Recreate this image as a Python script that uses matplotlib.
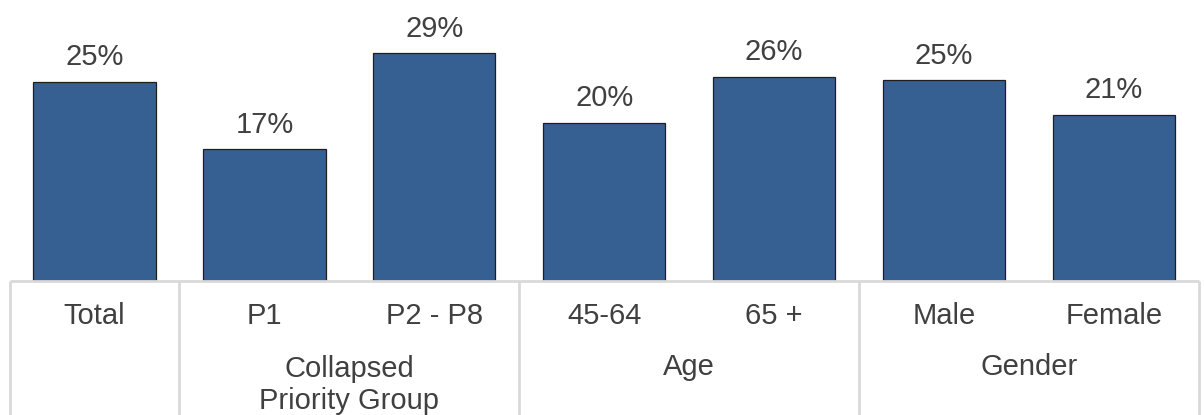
import matplotlib
matplotlib.use("Agg")
import matplotlib.pyplot as plt

categories = ["Total", "P1", "P2 - P8", "45-64", "65 +", "Male", "Female"]
values = [25.1, 16.6, 28.7, 19.9, 25.7, 25.3, 20.9]
groups = ["", "Collapsed\nPriority Group", "Age", "Gender"]
group_spans = [(0, 0), (1, 2), (3, 4), (5, 6)]

plt.rcParams['font.family'] = ['Liberation Sans', 'DejaVu Sans']
text_color = "#404040"
bar_color = "#376092"
line_color = "#d9d9d9"
fs = 21

W, H = 1204, 415
fig = plt.figure(figsize=(W / 100, H / 100), dpi=100)

left = 9.5 / W
width = (1199 - 9.5) / W
base_y = 281
ax = fig.add_axes([left, (H - base_y) / H, width, base_y / H])
x = list(range(len(categories)))
bars = ax.bar(x, values, width=0.72, color=bar_color, edgecolor="#1f1f1f", linewidth=0.9)
ax.set_xlim(-0.5, len(categories) - 0.5)
ax.set_ylim(0, 35.4)
ax.axis("off")
for xi, v in zip(x, values):
    ax.annotate(f"{round(v):.0f}%", (xi, v), xytext=(0, 12), textcoords="offset points",
                ha="center", va="baseline", fontsize=fs, color=text_color)

tax = fig.add_axes([left, 0, width, (H - base_y) / H])
tax.set_xlim(-0.5, len(categories) - 0.5)
tax.set_ylim(0, 1)
tax.axis("off")
tax.plot([-0.5, len(categories) - 0.5], [1, 1], color=line_color, lw=2, clip_on=False,
         solid_capstyle="butt")
bounds = [-0.5] + [s[1] + 0.5 for s in group_spans]
for b in bounds:
    tax.plot([b, b], [0, 1], color=line_color, lw=2, clip_on=False, solid_capstyle="butt")
for xi, c in zip(x, categories):
    tax.text(xi, 0.739, c, ha="center", va="center", fontsize=fs, color=text_color)
for g, (a, b) in zip(groups, group_spans):
    if not g:
        continue
    yc = 0.222 if "\n" in g else 0.358
    tax.text((a + b) / 2, yc, g, ha="center", va="center", fontsize=fs,
             color=text_color, linespacing=1.2)

fig.savefig("out.png", dpi=100)
